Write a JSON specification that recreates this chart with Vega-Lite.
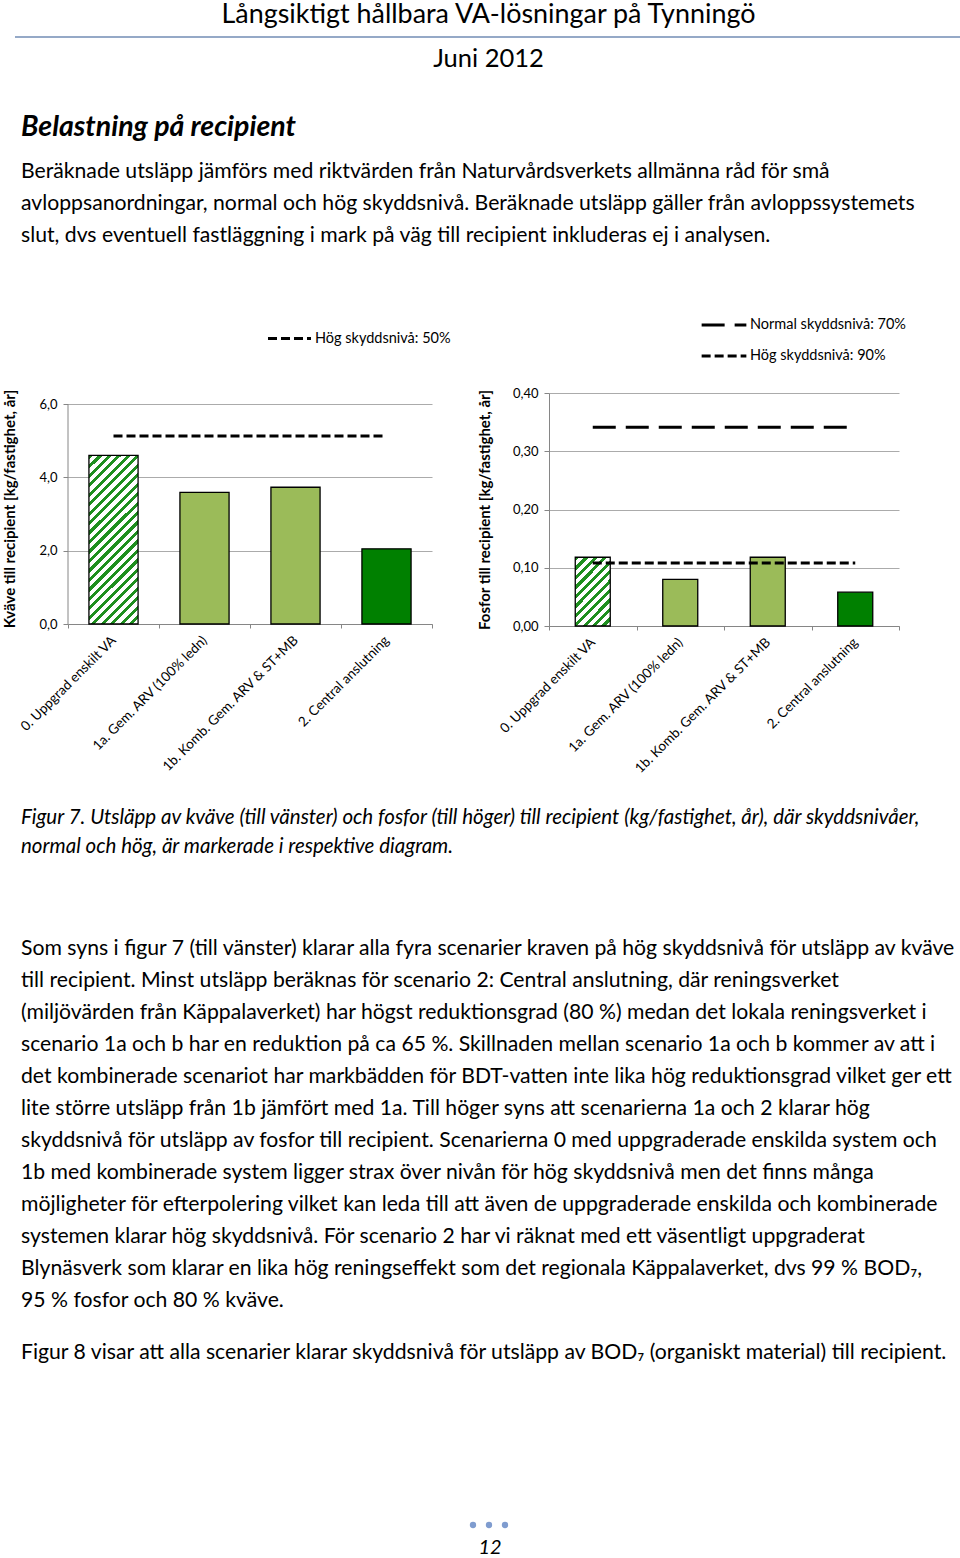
{
  "$schema": "https://vega.github.io/schema/vega-lite/v6.json",
  "padding": {"left": 2, "top": 1, "right": 0, "bottom": 0},
  "config": {
    "font": "Lato",
    "view": {"stroke": null},
    "axis": {"labelFont": "Lato", "titleFont": "Lato", "labelColor": "#000", "titleColor": "#000", "labelOverlap": false},
    "legend": {"labelFont": "Lato", "labelColor": "#000"},
    "title": {"font": "Lato", "color": "#000", "subtitleFont": "Lato", "subtitleColor": "#000", "fontWeight": "normal"},
    "locale": {"number": {"decimal": ",", "thousands": " ", "grouping": [3], "currency": ["", " kr"]}}
  },
  "datasets": {
    "kvave": [
      {"scenario": "0. Uppgrad enskilt VA", "kg": 4.6, "typ": "Uppgraderat enskilt"},
      {"scenario": "1a. Gem. ARV (100% ledn)", "kg": 3.59, "typ": "Gemensamt reningsverk"},
      {"scenario": "1b. Komb. Gem. ARV & ST+MB", "kg": 3.73, "typ": "Gemensamt reningsverk"},
      {"scenario": "2. Central anslutning", "kg": 2.05, "typ": "Central anslutning"}
    ],
    "kvave_riktvarde": [
      {"scenario": "0. Uppgrad enskilt VA", "kg": 5.13, "niva": "Hög skyddsnivå: 50%"},
      {"scenario": "1a. Gem. ARV (100% ledn)", "kg": 5.13, "niva": "Hög skyddsnivå: 50%"},
      {"scenario": "1b. Komb. Gem. ARV & ST+MB", "kg": 5.13, "niva": "Hög skyddsnivå: 50%"},
      {"scenario": "2. Central anslutning", "kg": 5.13, "niva": "Hög skyddsnivå: 50%"}
    ],
    "fosfor": [
      {"scenario": "0. Uppgrad enskilt VA", "kg": 0.118, "typ": "Uppgraderat enskilt"},
      {"scenario": "1a. Gem. ARV (100% ledn)", "kg": 0.08, "typ": "Gemensamt reningsverk"},
      {"scenario": "1b. Komb. Gem. ARV & ST+MB", "kg": 0.118, "typ": "Gemensamt reningsverk"},
      {"scenario": "2. Central anslutning", "kg": 0.058, "typ": "Central anslutning"}
    ],
    "fosfor_riktvarde": [
      {"scenario": "0. Uppgrad enskilt VA", "kg": 0.341, "niva": "Normal skyddsnivå: 70%"},
      {"scenario": "1a. Gem. ARV (100% ledn)", "kg": 0.341, "niva": "Normal skyddsnivå: 70%"},
      {"scenario": "1b. Komb. Gem. ARV & ST+MB", "kg": 0.341, "niva": "Normal skyddsnivå: 70%"},
      {"scenario": "2. Central anslutning", "kg": 0.341, "niva": "Normal skyddsnivå: 70%"},
      {"scenario": "0. Uppgrad enskilt VA", "kg": 0.108, "niva": "Hög skyddsnivå: 90%"},
      {"scenario": "1a. Gem. ARV (100% ledn)", "kg": 0.108, "niva": "Hög skyddsnivå: 90%"},
      {"scenario": "1b. Komb. Gem. ARV & ST+MB", "kg": 0.108, "niva": "Hög skyddsnivå: 90%"},
      {"scenario": "2. Central anslutning", "kg": 0.108, "niva": "Hög skyddsnivå: 90%"}
    ],
    "sidhuvud_linje": [{"start": 0, "slut": 1}],
    "sidmarkering": [{"punkt": 1}, {"punkt": 2}, {"punkt": 3}]
  },
  "title": {"text": "Långsiktigt hållbara VA-lösningar på Tynningö", "anchor": "middle", "fontSize": 26.9, "offset": 7, "dx": 6},
  "spacing": 32,
  "vconcat": [
    {
      "width": 893,
      "height": 2,
      "data": {"name": "sidhuvud_linje"},
      "mark": {"type": "rule", "color": "#95A9C7", "strokeWidth": 2},
      "encoding": {
        "x": {"field": "start", "type": "quantitative", "scale": {"domain": [0.05603, 1], "nice": false, "zero": false}, "axis": null},
        "x2": {"field": "slut"},
        "y": {"datum": 0, "axis": null}
      },
      "title": {"text": ["Juni 2012", ""], "orient": "bottom", "anchor": "middle", "fontSize": 25.5, "lineHeight": 8, "offset": 8, "dx": -26}
    },
    {
      "title": {
        "text": "Belastning på recipient",
        "subtitle": [
          "Beräknade utsläpp jämförs med riktvärden från Naturvårdsverkets allmänna råd för små",
          "avloppsanordningar, normal och hög skyddsnivå. Beräknade utsläpp gäller från avloppssystemets",
          "slut, dvs eventuell fastläggning i mark på väg till recipient inkluderas ej i analysen."
        ],
        "anchor": "start", "fontSize": 28.5, "fontWeight": "bold", "fontStyle": "italic",
        "subtitleFontSize": 21.2, "subtitleLineHeight": 32, "subtitlePadding": 19, "offset": 55, "dx": 18
      },
      "bounds": "flush",
      "spacing": 117,
      "resolve": {"scale": {"strokeDash": "independent"}, "legend": {"strokeDash": "independent"}},
      "hconcat": [
        {
          "width": 364,
          "height": 231,
          "layer": [
            {
              "data": {"name": "kvave"},
              "mark": {"type": "bar", "stroke": "#000", "strokeWidth": 1.3, "width": {"band": 0.54}},
              "encoding": {
                "x": {
                  "field": "scenario", "type": "nominal",
                  "scale": {"domain": ["0. Uppgrad enskilt VA", "1a. Gem. ARV (100% ledn)", "1b. Komb. Gem. ARV & ST+MB", "2. Central anslutning"], "paddingInner": 0, "paddingOuter": 0},
                  "axis": {"title": null, "labelAngle": -45, "labelAlign": "right", "labelBaseline": "middle", "labelFontSize": 13.5, "labelLimit": 400, "labelPadding": 10, "tickBand": "extent", "tickSize": 4, "tickColor": "#868686", "domainColor": "#868686", "grid": false}
                },
                "y": {
                  "field": "kg", "type": "quantitative",
                  "scale": {"domain": [0, 6.3], "nice": false, "zero": true},
                  "axis": {"title": "Kväve till recipient  [kg/fastighet, år]", "titleFontSize": 15, "titleFontWeight": "bold", "titlePadding": 21, "values": [0, 1, 2, 3, 4, 5, 6], "format": ".1f", "labelFontSize": 13, "labelPadding": 6, "tickSize": 5, "tickColor": "#868686", "domain": false, "grid": true, "gridColor": "#ABABAB", "gridWidth": 1.2}
                },
                "fill": {
                  "condition": {
                    "test": "datum.typ === 'Uppgraderat enskilt'",
                    "value": {
                      "gradient": "linear", "x1": 0, "y1": 0, "x2": 0.3457, "y2": 1.19,
                      "stops": [
                        {"offset": 0, "color": "#1f8f1f"}, {"offset": 0.01957, "color": "#1f8f1f"}, {"offset": 0.01957, "color": "#ffffff"}, {"offset": 0.04348, "color": "#ffffff"},
                        {"offset": 0.04348, "color": "#1f8f1f"}, {"offset": 0.06304, "color": "#1f8f1f"}, {"offset": 0.06304, "color": "#ffffff"}, {"offset": 0.08696, "color": "#ffffff"},
                        {"offset": 0.08696, "color": "#1f8f1f"}, {"offset": 0.10652, "color": "#1f8f1f"}, {"offset": 0.10652, "color": "#ffffff"}, {"offset": 0.13043, "color": "#ffffff"},
                        {"offset": 0.13043, "color": "#1f8f1f"}, {"offset": 0.15, "color": "#1f8f1f"}, {"offset": 0.15, "color": "#ffffff"}, {"offset": 0.17391, "color": "#ffffff"},
                        {"offset": 0.17391, "color": "#1f8f1f"}, {"offset": 0.19348, "color": "#1f8f1f"}, {"offset": 0.19348, "color": "#ffffff"}, {"offset": 0.21739, "color": "#ffffff"},
                        {"offset": 0.21739, "color": "#1f8f1f"}, {"offset": 0.23696, "color": "#1f8f1f"}, {"offset": 0.23696, "color": "#ffffff"}, {"offset": 0.26087, "color": "#ffffff"},
                        {"offset": 0.26087, "color": "#1f8f1f"}, {"offset": 0.28043, "color": "#1f8f1f"}, {"offset": 0.28043, "color": "#ffffff"}, {"offset": 0.30435, "color": "#ffffff"},
                        {"offset": 0.30435, "color": "#1f8f1f"}, {"offset": 0.32391, "color": "#1f8f1f"}, {"offset": 0.32391, "color": "#ffffff"}, {"offset": 0.34783, "color": "#ffffff"},
                        {"offset": 0.34783, "color": "#1f8f1f"}, {"offset": 0.36739, "color": "#1f8f1f"}, {"offset": 0.36739, "color": "#ffffff"}, {"offset": 0.3913, "color": "#ffffff"},
                        {"offset": 0.3913, "color": "#1f8f1f"}, {"offset": 0.41087, "color": "#1f8f1f"}, {"offset": 0.41087, "color": "#ffffff"}, {"offset": 0.43478, "color": "#ffffff"},
                        {"offset": 0.43478, "color": "#1f8f1f"}, {"offset": 0.45435, "color": "#1f8f1f"}, {"offset": 0.45435, "color": "#ffffff"}, {"offset": 0.47826, "color": "#ffffff"},
                        {"offset": 0.47826, "color": "#1f8f1f"}, {"offset": 0.49783, "color": "#1f8f1f"}, {"offset": 0.49783, "color": "#ffffff"}, {"offset": 0.52174, "color": "#ffffff"},
                        {"offset": 0.52174, "color": "#1f8f1f"}, {"offset": 0.5413, "color": "#1f8f1f"}, {"offset": 0.5413, "color": "#ffffff"}, {"offset": 0.56522, "color": "#ffffff"},
                        {"offset": 0.56522, "color": "#1f8f1f"}, {"offset": 0.58478, "color": "#1f8f1f"}, {"offset": 0.58478, "color": "#ffffff"}, {"offset": 0.6087, "color": "#ffffff"},
                        {"offset": 0.6087, "color": "#1f8f1f"}, {"offset": 0.62826, "color": "#1f8f1f"}, {"offset": 0.62826, "color": "#ffffff"}, {"offset": 0.65217, "color": "#ffffff"},
                        {"offset": 0.65217, "color": "#1f8f1f"}, {"offset": 0.67174, "color": "#1f8f1f"}, {"offset": 0.67174, "color": "#ffffff"}, {"offset": 0.69565, "color": "#ffffff"},
                        {"offset": 0.69565, "color": "#1f8f1f"}, {"offset": 0.71522, "color": "#1f8f1f"}, {"offset": 0.71522, "color": "#ffffff"}, {"offset": 0.73913, "color": "#ffffff"},
                        {"offset": 0.73913, "color": "#1f8f1f"}, {"offset": 0.7587, "color": "#1f8f1f"}, {"offset": 0.7587, "color": "#ffffff"}, {"offset": 0.78261, "color": "#ffffff"},
                        {"offset": 0.78261, "color": "#1f8f1f"}, {"offset": 0.80217, "color": "#1f8f1f"}, {"offset": 0.80217, "color": "#ffffff"}, {"offset": 0.82609, "color": "#ffffff"},
                        {"offset": 0.82609, "color": "#1f8f1f"}, {"offset": 0.84565, "color": "#1f8f1f"}, {"offset": 0.84565, "color": "#ffffff"}, {"offset": 0.86957, "color": "#ffffff"},
                        {"offset": 0.86957, "color": "#1f8f1f"}, {"offset": 0.88913, "color": "#1f8f1f"}, {"offset": 0.88913, "color": "#ffffff"}, {"offset": 0.91304, "color": "#ffffff"},
                        {"offset": 0.91304, "color": "#1f8f1f"}, {"offset": 0.93261, "color": "#1f8f1f"}, {"offset": 0.93261, "color": "#ffffff"}, {"offset": 0.95652, "color": "#ffffff"},
                        {"offset": 0.95652, "color": "#1f8f1f"}, {"offset": 0.97609, "color": "#1f8f1f"}, {"offset": 0.97609, "color": "#ffffff"}, {"offset": 1, "color": "#ffffff"}
                      ]
                    }
                  },
                  "field": "typ", "type": "nominal",
                  "scale": {"domain": ["Uppgraderat enskilt", "Gemensamt reningsverk", "Central anslutning"], "range": ["#ffffff", "#9BBB59", "#008000"]},
                  "legend": null
                }
              }
            },
            {
              "data": {"name": "kvave_riktvarde"},
              "mark": {"type": "line", "color": "#000", "strokeWidth": 3},
              "encoding": {
                "x": {"field": "scenario", "type": "nominal"},
                "y": {"field": "kg", "type": "quantitative"},
                "strokeDash": {
                  "field": "niva", "type": "nominal",
                  "scale": {"domain": ["Hög skyddsnivå: 50%"], "range": [[9, 4]]},
                  "legend": {"orient": "none", "legendX": 198, "legendY": -78, "title": null, "symbolType": "stroke", "symbolSize": 1850, "symbolStrokeWidth": 3, "symbolStrokeColor": "#000", "labelFontSize": 14.5, "labelOffset": 2}
                }
              }
            },
            {
              "data": {"values": [{}]},
              "mark": {"type": "rule", "color": "#868686", "strokeWidth": 1},
              "encoding": {
                "x": {"datum": "0. Uppgrad enskilt VA", "bandPosition": 0},
                "y": {"datum": 0},
                "y2": {"datum": 6}
              }
            }
          ]
        },
        {
          "width": 350,
          "height": 233,
          "layer": [
            {
              "data": {"name": "fosfor"},
              "mark": {"type": "bar", "stroke": "#000", "strokeWidth": 1.3, "width": {"band": 0.4}},
              "encoding": {
                "x": {
                  "field": "scenario", "type": "nominal",
                  "scale": {"domain": ["0. Uppgrad enskilt VA", "1a. Gem. ARV (100% ledn)", "1b. Komb. Gem. ARV & ST+MB", "2. Central anslutning"], "paddingInner": 0, "paddingOuter": 0},
                  "axis": {"title": null, "labelAngle": -45, "labelAlign": "right", "labelBaseline": "middle", "labelFontSize": 13.5, "labelLimit": 400, "labelPadding": 10, "tickBand": "extent", "tickSize": 4, "tickColor": "#868686", "domainColor": "#868686", "grid": false}
                },
                "y": {
                  "field": "kg", "type": "quantitative",
                  "scale": {"domain": [0, 0.4], "nice": false, "zero": true},
                  "axis": {"title": "Fosfor till recipient [kg/fastighet, år]", "titleFontSize": 15, "titleFontWeight": "bold", "titlePadding": 20, "values": [0, 0.05, 0.1, 0.15, 0.2, 0.25, 0.3, 0.35, 0.4], "format": ".2f", "labelFontSize": 13, "labelPadding": 6, "tickSize": 5, "tickColor": "#868686", "domain": true, "domainColor": "#868686", "grid": true, "gridColor": "#ABABAB", "gridWidth": 1.2}
                },
                "fill": {
                  "condition": {
                    "test": "datum.typ === 'Uppgraderat enskilt'",
                    "value": {
                      "gradient": "linear", "x1": 0, "y1": 0, "x2": 0.615, "y2": 1.198,
                      "stops": [
                        {"offset": 0, "color": "#1f8f1f"}, {"offset": 0.04091, "color": "#1f8f1f"}, {"offset": 0.04091, "color": "#ffffff"}, {"offset": 0.09091, "color": "#ffffff"},
                        {"offset": 0.09091, "color": "#1f8f1f"}, {"offset": 0.13182, "color": "#1f8f1f"}, {"offset": 0.13182, "color": "#ffffff"}, {"offset": 0.18182, "color": "#ffffff"},
                        {"offset": 0.18182, "color": "#1f8f1f"}, {"offset": 0.22273, "color": "#1f8f1f"}, {"offset": 0.22273, "color": "#ffffff"}, {"offset": 0.27273, "color": "#ffffff"},
                        {"offset": 0.27273, "color": "#1f8f1f"}, {"offset": 0.31364, "color": "#1f8f1f"}, {"offset": 0.31364, "color": "#ffffff"}, {"offset": 0.36364, "color": "#ffffff"},
                        {"offset": 0.36364, "color": "#1f8f1f"}, {"offset": 0.40455, "color": "#1f8f1f"}, {"offset": 0.40455, "color": "#ffffff"}, {"offset": 0.45455, "color": "#ffffff"},
                        {"offset": 0.45455, "color": "#1f8f1f"}, {"offset": 0.49545, "color": "#1f8f1f"}, {"offset": 0.49545, "color": "#ffffff"}, {"offset": 0.54545, "color": "#ffffff"},
                        {"offset": 0.54545, "color": "#1f8f1f"}, {"offset": 0.58636, "color": "#1f8f1f"}, {"offset": 0.58636, "color": "#ffffff"}, {"offset": 0.63636, "color": "#ffffff"},
                        {"offset": 0.63636, "color": "#1f8f1f"}, {"offset": 0.67727, "color": "#1f8f1f"}, {"offset": 0.67727, "color": "#ffffff"}, {"offset": 0.72727, "color": "#ffffff"},
                        {"offset": 0.72727, "color": "#1f8f1f"}, {"offset": 0.76818, "color": "#1f8f1f"}, {"offset": 0.76818, "color": "#ffffff"}, {"offset": 0.81818, "color": "#ffffff"},
                        {"offset": 0.81818, "color": "#1f8f1f"}, {"offset": 0.85909, "color": "#1f8f1f"}, {"offset": 0.85909, "color": "#ffffff"}, {"offset": 0.90909, "color": "#ffffff"},
                        {"offset": 0.90909, "color": "#1f8f1f"}, {"offset": 0.95, "color": "#1f8f1f"}, {"offset": 0.95, "color": "#ffffff"}, {"offset": 1, "color": "#ffffff"}
                      ]
                    }
                  },
                  "field": "typ", "type": "nominal",
                  "scale": {"domain": ["Uppgraderat enskilt", "Gemensamt reningsverk", "Central anslutning"], "range": ["#ffffff", "#9BBB59", "#008000"]},
                  "legend": null
                }
              }
            },
            {
              "data": {"name": "fosfor_riktvarde"},
              "mark": {"type": "line", "color": "#000", "strokeWidth": 3},
              "encoding": {
                "x": {"field": "scenario", "type": "nominal"},
                "y": {"field": "kg", "type": "quantitative"},
                "strokeDash": {
                  "field": "niva", "type": "nominal",
                  "scale": {"domain": ["Normal skyddsnivå: 70%", "Hög skyddsnivå: 90%"], "range": [[23, 10], [9, 4]]},
                  "legend": {"orient": "none", "legendX": 151, "legendY": -92, "title": null, "symbolType": "stroke", "symbolSize": 2000, "symbolStrokeWidth": 3, "symbolStrokeColor": "#000", "labelFontSize": 14.5, "labelOffset": 2, "rowPadding": -19}
                }
              }
            }
          ]
        }
      ]
    },
    {
      "title": {
        "text": [
          "Figur 7. Utsläpp av kväve (till vänster) och fosfor (till höger) till recipient (kg/fastighet, år), där skyddsnivåer,",
          "normal och hög, är markerade i respektive diagram."
        ],
        "subtitle": [
          "Som syns i figur 7 (till vänster) klarar alla fyra scenarier kraven på hög skyddsnivå för utsläpp av kväve",
          "till recipient. Minst utsläpp beräknas för scenario 2: Central anslutning, där reningsverket",
          "(miljövärden från Käppalaverket) har högst reduktionsgrad (80 %) medan det lokala reningsverket i",
          "scenario 1a och b har en reduktion på ca 65 %. Skillnaden mellan scenario 1a och b kommer av att i",
          "det kombinerade scenariot har markbädden för BDT-vatten inte lika hög reduktionsgrad vilket ger ett",
          "lite större utsläpp från 1b jämfört med 1a. Till höger syns att scenarierna 1a och 2 klarar hög",
          "skyddsnivå för utsläpp av fosfor till recipient. Scenarierna 0 med uppgraderade enskilda system och",
          "1b med kombinerade system ligger strax över nivån för hög skyddsnivå men det finns många",
          "möjligheter för efterpolering vilket kan leda till att även de uppgraderade enskilda och kombinerade",
          "systemen klarar hög skyddsnivå. För scenario 2 har vi räknat med ett väsentligt uppgraderat",
          "Blynäsverk som klarar en lika hög reningseffekt som det regionala Käppalaverket, dvs 99 % BOD₇,",
          "95 % fosfor och 80 % kväve."
        ],
        "anchor": "start", "fontSize": 20.5, "fontStyle": "italic", "lineHeight": 29,
        "subtitleFontSize": 21.2, "subtitleLineHeight": 32, "subtitlePadding": 80, "offset": 31, "dx": 0
      },
      "vconcat": [
        {
          "title": {"text": "Figur 8 visar att alla scenarier klarar skyddsnivå för utsläpp av BOD₇ (organiskt material) till recipient.", "anchor": "start", "fontSize": 21.2, "offset": 158, "dx": -47},
          "vconcat": [
            {
              "width": 880,
              "height": 8,
              "data": {"name": "sidmarkering"},
              "mark": {"type": "circle", "size": 40, "color": "#7F9CCF", "opacity": 1},
              "encoding": {
                "x": {"field": "punkt", "type": "quantitative", "scale": {"domain": [-24.3125, 30.6875], "nice": false, "zero": false}, "axis": null}
              },
              "title": {"text": "12", "orient": "bottom", "anchor": "middle", "fontSize": 20, "fontStyle": "italic", "offset": 9, "dx": -18}
            }
          ]
        }
      ]
    }
  ]
}
